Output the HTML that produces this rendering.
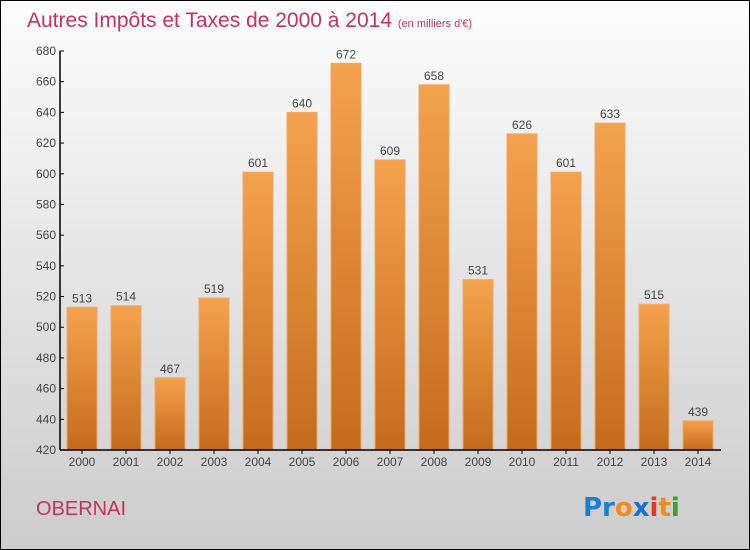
<!DOCTYPE html>
<html><head><meta charset="utf-8"><style>
body{margin:0}
svg{display:block;font-family:"Liberation Sans",sans-serif}
</style></head><body>
<svg width="750" height="550" viewBox="0 0 750 550">
<defs>
<linearGradient id="bg" x1="0" y1="0" x2="0" y2="1"><stop offset="0" stop-color="#fdfdfd"/><stop offset="1" stop-color="#cccccc"/></linearGradient>
<linearGradient id="bar" x1="0" y1="0" x2="0" y2="1"><stop offset="0" stop-color="#f5a24e"/><stop offset="1" stop-color="#c56c1c"/></linearGradient>
</defs>
<rect x="0.5" y="0.5" width="749" height="549" fill="url(#bg)" stroke="#000"/>
<text x="27" y="27" font-size="21" fill="#c8305e">Autres Impôts et Taxes de 2000 à 2014 <tspan font-size="11">(en milliers d'€)</tspan></text>
<text x="36" y="515" font-size="20" fill="#c8305e">OBERNAI</text>
<g font-size="26" font-family="'DejaVu Sans',sans-serif" font-weight="bold">
<text x="583" y="516"><tspan fill="#1a7fd0">Pr</tspan><tspan fill="#f08a1a">o</tspan><tspan fill="#1a6fd0">x</tspan><tspan fill="#e03a1a">i</tspan><tspan fill="#f08a1a">t</tspan><tspan fill="#3aa02a">i</tspan></text>
</g>
<g id="plot"></g>
</svg>
<script>
const categories=["2000","2001","2002","2003","2004","2005","2006","2007","2008","2009","2010","2011","2012","2013","2014"];
const values=[513,514,467,519,601,640,672,609,658,531,626,601,633,515,439];
const yTicks=[420,440,460,480,500,520,540,560,580,600,620,640,660,680];
const X0=60,X1=720,Y0=450,Y1=51,YMIN=420,YMAX=680;
const band=(X1-X0)/categories.length;
const xc=i=>X0+band*(i+0.5);
const y=v=>Y0-(v-YMIN)/(YMAX-YMIN)*(Y0-Y1);
const NS="http://www.w3.org/2000/svg";
const g=document.getElementById('plot');
function mk(t,a,txt){const e=document.createElementNS(NS,t);for(const k in a)e.setAttribute(k,a[k]);if(txt!=null)e.textContent=txt;g.appendChild(e);return e;}
values.forEach((v,i)=>{
 const r=mk('rect',{x:xc(i)-15,y:y(v),width:30,height:Y0-y(v),fill:'url(#bar)',stroke:'#f0a868','stroke-width':1});
 
 
 const t=mk('text',{x:xc(i),y:y(v)-5,'font-size':12,fill:'#444','text-anchor':'middle'},v);
 
 
 const c=mk('text',{x:xc(i),y:Y0+16,'font-size':12,fill:'#444','text-anchor':'middle'},categories[i]);
 
 
 const tk=mk('line',{x1:xc(i),x2:xc(i),y1:Y0,y2:Y0+4,stroke:'#000'});
 
 
});
yTicks.forEach(v=>{
 const l=mk('line',{x1:X0,x2:X0+4,y1:y(v),y2:y(v),stroke:'#000'});
 
 
 const t=mk('text',{x:X0-4,y:y(v)+4,'font-size':12,fill:'#444','text-anchor':'end'},v);
 
 
});
const ya=mk('line',{x1:X0,x2:X0,y1:Y1,y2:Y0,stroke:'#000','stroke-width':1.5});


const xa=mk('line',{x1:X0,x2:X1+1,y1:Y0,y2:Y0,stroke:'#000','stroke-width':1.5});


</script>
</body></html>
